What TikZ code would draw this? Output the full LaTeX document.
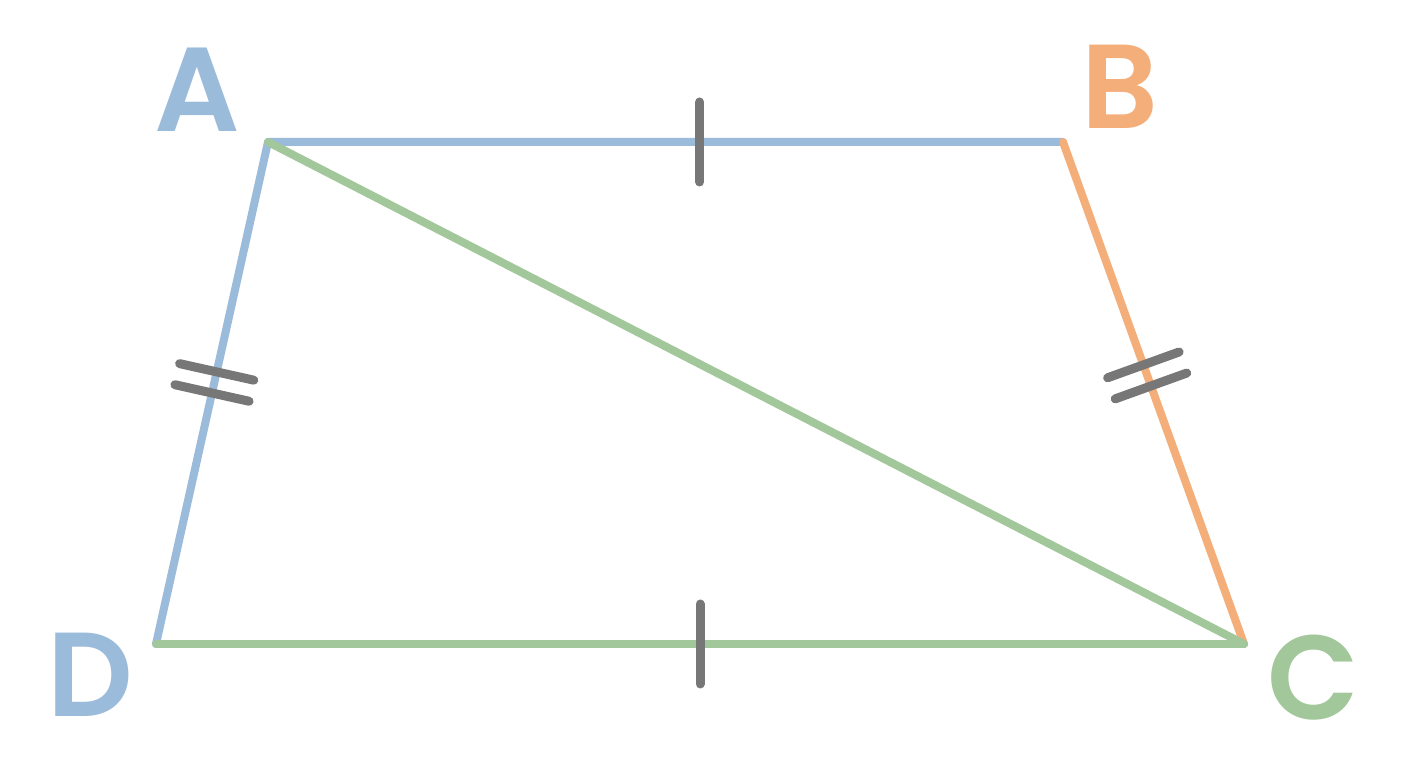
\documentclass[tikz,border=0pt]{standalone}
\usepackage{fontspec}
\setmainfont{Poppins}
\newfontfamily\labelfont{Poppins}[UprightFont=*-SemiBold]
\usetikzlibrary{calc}
\definecolor{sideblue}{HTML}{9BBBDB}
\definecolor{sideorange}{HTML}{F4AE7A}
\definecolor{sidegreen}{HTML}{A2C79A}
\definecolor{tickgray}{HTML}{777777}
\begin{document}
\begin{tikzpicture}[
        side/.style={line width=0.08cm,line cap=round,line join=round},
        tick/.style={line width=0.09cm,line cap=round,draw=tickgray},
        vlabel/.style={inner sep=0pt,font=\fontsize{34}{34}\labelfont}
    ]
        \useasboundingbox (0,0) rectangle (14.08,7.68);
        % vertices
        \coordinate (A) at (2.68,6.26);
        \coordinate (B) at (10.63,6.26);
        \coordinate (C) at (12.44,1.24);
        \coordinate (D) at (1.56,1.24);
        % sides
        \draw[side,sideblue] (D) -- (A) -- (B);
        \draw[side,sideorange] (B) -- (C);
        \draw[side,sidegreen] (D) -- (C);
        \draw[side,sidegreen] (A) -- (C);
        % single ticks
        \coordinate (ab) at ($(A)!0.543!(B)$);
        \draw[tick] ($(ab)!0.4cm!90:(B)$) -- ($(ab)!0.4cm!-90:(B)$);
        \coordinate (dc) at ($(D)!0.5!(C)$);
        \draw[tick] ($(dc)!0.4cm!90:(C)$) -- ($(dc)!0.4cm!-90:(C)$);
        % double ticks
        \foreach \f in {0.458,0.5} {
            \coordinate (ad) at ($(A)!\f!(D)$);
            \draw[tick] ($(ad)!0.38cm!90:(D)$) -- ($(ad)!0.38cm!-90:(D)$);
        }
        \foreach \f in {0.444,0.486} {
            \coordinate (bc) at ($(B)!\f!(C)$);
            \draw[tick] ($(bc)!0.38cm!90:(C)$) -- ($(bc)!0.38cm!-90:(C)$);
        }
        % labels
        \node[vlabel,text=sideblue] (lA) at (1.97,6.78) {A};
        \node[vlabel,text=sideorange] (lB) at (11.20,6.81) {B};
        \node[vlabel,text=sidegreen] (lC) at (13.13,0.90) {C};
        \node[vlabel,text=sideblue] (lD) at (0.90,0.93) {D};
\end{tikzpicture}
\end{document}
